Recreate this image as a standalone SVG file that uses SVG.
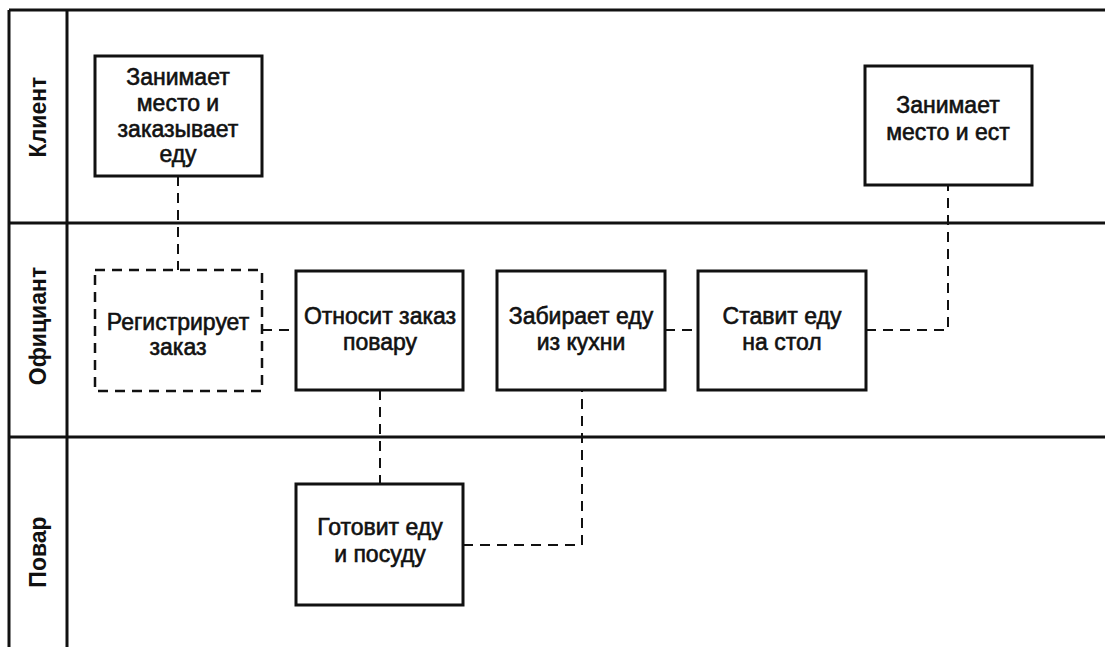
<svg xmlns="http://www.w3.org/2000/svg" width="1105" height="647" viewBox="0 0 1105 647">
<style>
.frame{stroke:#111;stroke-width:3;fill:none}
.box{stroke:#111;stroke-width:3;fill:#fff}
.dbox{stroke:#111;stroke-width:2.5;fill:#fff;stroke-dasharray:10 7}
.conn{stroke:#111;stroke-width:2;fill:none;stroke-dasharray:10 7}
.t{font-family:"Liberation Sans",Arial,sans-serif;font-size:23px;fill:#111;stroke:#111;stroke-width:0.6;text-anchor:middle}
.lane{font-family:"Liberation Sans",Arial,sans-serif;font-size:23px;font-weight:bold;fill:#111;text-anchor:middle}
</style>
<rect width="1105" height="647" fill="#fff"/>
<g id="lanes">
<line class="frame" x1="9" y1="10" x2="1105" y2="10"/>
<line class="frame" x1="9" y1="10" x2="9" y2="647"/>
<line class="frame" x1="67" y1="10" x2="67" y2="647"/>
<line class="frame" x1="9" y1="223" x2="1105" y2="223"/>
<line class="frame" x1="9" y1="437" x2="1105" y2="437"/>
<text class="lane" transform="translate(46,117) rotate(-90)">Клиент</text>
<text class="lane" transform="translate(46,326) rotate(-90)">Официант</text>
<text class="lane" transform="translate(46,552) rotate(-90)">Повар</text>
</g>
<g id="connectors">
<path class="conn" d="M178,176 V270"/>
<path class="conn" d="M262,330 H296"/>
<path class="conn" d="M665,330 H698"/>
<path class="conn" d="M866,330 H948 V185"/>
<path class="conn" d="M380,390 V484"/>
<path class="conn" d="M463,545 H582 V390"/>
</g>
<g id="n1">
<rect class="box" x="95" y="56" width="167" height="120"/>
<text class="t" x="178" y="85">Занимает</text>
<text class="t" x="178" y="111">место и</text>
<text class="t" x="178" y="137">заказывает</text>
<text class="t" x="178" y="162">еду</text>
</g>
<g id="n2">
<rect class="dbox" x="95" y="270" width="167" height="121"/>
<text class="t" x="178" y="330">Регистрирует</text>
<text class="t" x="178" y="355">заказ</text>
</g>
<g id="n3">
<rect class="box" x="296" y="271" width="167" height="119"/>
<text class="t" x="380" y="324">Относит заказ</text>
<text class="t" x="380" y="350">повару</text>
</g>
<g id="n4">
<rect class="box" x="497" y="271" width="168" height="119"/>
<text class="t" x="581" y="324">Забирает еду</text>
<text class="t" x="581" y="350">из кухни</text>
</g>
<g id="n5">
<rect class="box" x="698" y="271" width="168" height="119"/>
<text class="t" x="782" y="324">Ставит еду</text>
<text class="t" x="782" y="350">на стол</text>
</g>
<g id="n6">
<rect class="box" x="865" y="66" width="167" height="119"/>
<text class="t" x="948" y="113">Занимает</text>
<text class="t" x="948" y="140">место и ест</text>
</g>
<g id="n7">
<rect class="box" x="296" y="484" width="167" height="121"/>
<text class="t" x="380" y="535">Готовит еду</text>
<text class="t" x="380" y="562">и посуду</text>
</g>
</svg>
